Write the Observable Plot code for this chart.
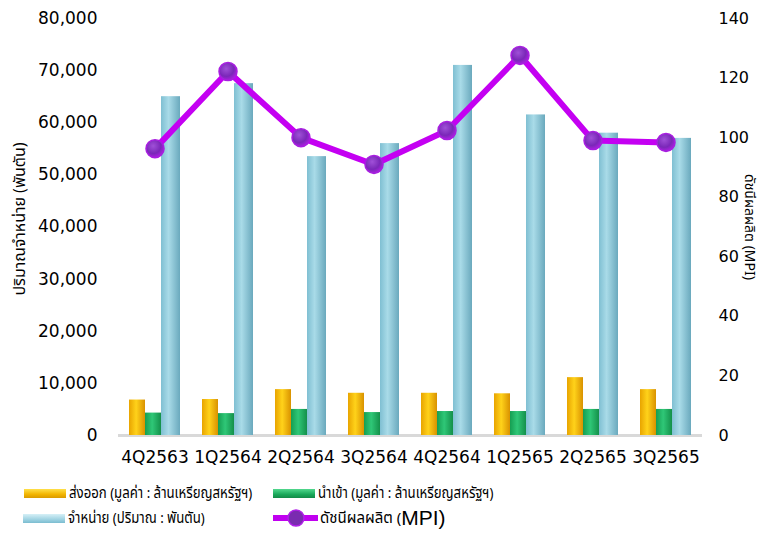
<!DOCTYPE html>
<html><head><meta charset="utf-8">
<script src="https://cdn.jsdelivr.net/npm/d3@7"></script>
<script src="https://cdn.jsdelivr.net/npm/@observablehq/plot@0.6"></script>
<style>
body{margin:0;background:#fff;font-family:"DejaVu Sans",sans-serif;}
#wrap{position:relative;width:763px;height:536px;overflow:hidden;}
#chart{position:absolute;left:0;top:0;}
.lg{position:absolute;display:flex;align-items:center;font-family:"Noto Sans Thai","Tahoma","DejaVu Sans",sans-serif;font-size:15px;color:#000;white-space:nowrap;}
.sw{width:42px;height:9px;margin-right:3px;flex:none;}
.tx{display:inline-block;transform:scaleX(0.88);transform-origin:0 50%;}
</style></head><body>
<div id="wrap"><div id="chart"></div>
<div class="lg" style="left:24px;top:482px;"><div class="sw" style="background:linear-gradient(#ffe04a,#f2b400 60%,#d99a00);"></div><span class="tx">ส่งออก (มูลค่า : ล้านเหรียญสหรัฐฯ)</span></div>
<div class="lg" style="left:273px;top:482px;"><div class="sw" style="background:linear-gradient(#52d88e,#1aa85a 60%,#138a48);"></div><span class="tx">นำเข้า (มูลค่า : ล้านเหรียญสหรัฐฯ)</span></div>
<div class="lg" style="left:23px;top:507px;"><div class="sw" style="background:linear-gradient(#d6f0f7,#9fd3e2 60%,#7bbcd0);"></div><span class="tx">จำหน่าย (ปริมาณ : พันตัน)</span></div>
<div class="lg" style="left:273px;top:506px;"><svg width="45" height="22" style="margin-right:2px;flex:none"><line x1="0" y1="11" x2="45" y2="11" stroke="#c000f0" stroke-width="6"/><circle cx="23" cy="11" r="8" fill="#7a2bb0" stroke="#b020e8" stroke-width="1.5"/></svg><span>ดัชนีผลผลิต (</span><span style="font-family:'Liberation Sans Narrow','Liberation Sans',sans-serif;font-size:21px;">MPI)</span></div>
</div>
<script>
const categories = ["4Q2563","1Q2564","2Q2564","3Q2564","4Q2564","1Q2565","2Q2565","3Q2565"];
const exportVal = [6800, 6900, 8800, 8100, 8100, 8000, 11100, 8800];
const importVal = [4300, 4200, 5000, 4400, 4600, 4600, 5000, 5000];
const salesVal = [65000, 67500, 53500, 56000, 71000, 61500, 58000, 57000];
const mpiVal = [96.3, 122.2, 100.0, 91.0, 102.4, 127.6, 99.0, 98.4];
const leftTicks = [0, 10000, 20000, 30000, 40000, 50000, 60000, 70000, 80000];
const rightTicks = [0, 20, 40, 60, 80, 100, 120, 140];
const leftTitle = "ปริมาณจำหน่าย (พันตัน)";
const rightTitle = "ดัชนีผลผลิต (MPI)";

const yMax = 80000, rMax = 140, k = yMax / rMax;
const rows = categories.map((c, i) => ({cat: c, exp: exportVal[i], imp: importVal[i], sales: salesVal[i], mpi: mpiVal[i]}));
const thai = "'Noto Sans Thai', Tahoma, 'DejaVu Sans', sans-serif";

const chart = Plot.plot({
  width: 763, height: 478,
  marginLeft: 118, marginRight: 61, marginTop: 18, marginBottom: 43,
  style: {fontFamily: "'DejaVu Sans', sans-serif", fontSize: "17px", color: "#000", background: "transparent", overflow: "visible"},
  x: {domain: categories, padding: 0, label: null, axis: null},
  y: {domain: [0, yMax], label: null, axis: null},
  marks: [
    Plot.ruleY([0], {stroke: "#d9d9d9", strokeWidth: 3}),
    Plot.barY(rows, {x: "cat", y: "sales", fill: "url(#gB)", insetLeft: 43, insetRight: 11}),
    Plot.barY(rows, {x: "cat", y: "exp", fill: "url(#gY)", insetLeft: 11, insetRight: 46}),
    Plot.barY(rows, {x: "cat", y: "imp", fill: "url(#gG)", insetLeft: 27, insetRight: 30}),
    Plot.line(rows, {x: "cat", y: d => d.mpi * k, stroke: "#c400f2", strokeWidth: 6}),
    Plot.dot(rows, {x: "cat", y: d => d.mpi * k, r: 9, fill: "url(#gP)", stroke: "#a81ee0", strokeWidth: 1.5}),
    Plot.axisY(leftTicks, {anchor: "left", tickSize: 0, tickPadding: 21, tickFormat: d3.format(","), fontSize: 17}),
    Plot.axisY(rightTicks.map(v => v * k), {anchor: "right", tickSize: 0, tickPadding: 16, tickFormat: d => Math.round(d / k), fontSize: 16}),
    Plot.axisX({tickSize: 0, tickPadding: 15, fontSize: 17}),
    Plot.text([leftTitle], {frameAnchor: "left", textAnchor: "middle", dx: -99, dy: -8, rotate: -90, fontSize: 16, fontFamily: thai, fill: "#000"}),
    Plot.text([rightTitle], {frameAnchor: "right", textAnchor: "middle", dx: 47, dy: 0, rotate: 90, fontSize: 14, fontFamily: thai, fill: "#000"})
  ]
});

const ns = "http://www.w3.org/2000/svg";
const defs = document.createElementNS(ns, "defs");
defs.innerHTML = `
<linearGradient id="gY" x1="0" x2="1" y1="0" y2="0"><stop offset="0" stop-color="#e8a400"/><stop offset="0.45" stop-color="#ffd21a"/><stop offset="1" stop-color="#d99200"/></linearGradient>
<linearGradient id="gG" x1="0" x2="1" y1="0" y2="0"><stop offset="0" stop-color="#159e52"/><stop offset="0.45" stop-color="#2fc777"/><stop offset="1" stop-color="#14904a"/></linearGradient>
<linearGradient id="gB" x1="0" x2="1" y1="0" y2="0"><stop offset="0" stop-color="#7fbfd2"/><stop offset="0.4" stop-color="#a9dbe8"/><stop offset="1" stop-color="#6aa9bd"/></linearGradient>
<radialGradient id="gP" cx="0.4" cy="0.35" r="0.7"><stop offset="0" stop-color="#a050d8"/><stop offset="0.6" stop-color="#7a28b8"/><stop offset="1" stop-color="#b41ee8"/></radialGradient>`;
chart.insertBefore(defs, chart.firstChild);
document.getElementById("chart").appendChild(chart);
</script>
</body></html>
